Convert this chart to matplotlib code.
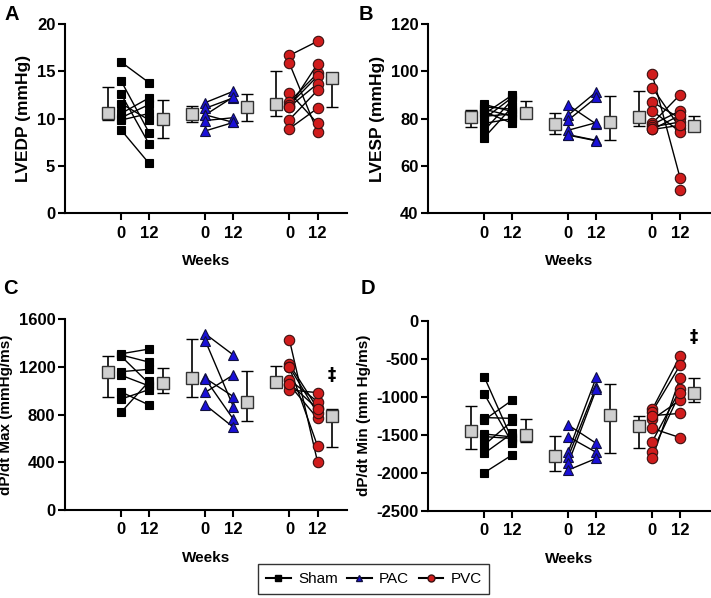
import numpy as np
import matplotlib
matplotlib.use("Agg")
import matplotlib.pyplot as plt
from matplotlib.lines import Line2D

plt.rcParams['font.family'] = ['Liberation Sans', 'DejaVu Sans']
plt.rcParams['font.weight'] = 'bold'
plt.rcParams['axes.unicode_minus'] = False

# ---- dados ----
groups = ["Sham", "PAC", "PVC"]
week_labels = ["0", "12"]

# LVEDP (mmHg)
lvedp_sham_0 = [16.0, 14.0, 12.6, 11.6, 10.55, 10.1, 9.85, 8.8]
lvedp_sham_12 = [13.8, 8.5, 7.3, 9.85, 12.2, 11.5, 10.55, 5.25]
lvedp_pac_0 = [11.7, 11.1, 10.4, 10.4, 9.8, 8.7]
lvedp_pac_12 = [12.9, 12.2, 12.3, 9.6, 10.1, 9.6]
lvedp_pvc_0 = [16.7, 15.85, 12.75, 11.8, 11.45, 11.25, 11.25, 9.9, 8.95]
lvedp_pvc_12 = [18.2, 8.6, 9.5, 14.8, 14.5, 15.8, 13.7, 13.0, 11.1]
lvedp_mean = [10.58, 9.95, 10.48, 11.2, 11.57, 14.3]
lvedp_lo = [9.88, 7.94, 9.6, 9.8, 10.23, 11.2]
lvedp_hi = [13.4, 12.0, 11.36, 12.56, 15.06, 14.74]

# LVESP (mmHg)
lvesp_sham_0 = [86, 85, 84, 83, 82, 81, 80, 78, 75, 72]
lvesp_sham_12 = [83, 84, 81, 78, 90, 82, 89, 80, 88, 85]
lvesp_pac_0 = [85.7, 81.5, 79.4, 75.1, 73.2, 73.0]
lvesp_pac_12 = [77.7, 91.3, 89.0, 78.3, 70.8, 70.6]
lvesp_pvc_0 = [98.8, 93.2, 87.1, 83.3, 78.0, 77.5, 76.5, 75.4, 75.4, np.nan]
lvesp_pvc_12 = [54.7, 76.0, 80.1, 74.4, 90.2, 83.3, 78.6, 81.5, 77.2, 49.7]
lvesp_mean = [80.9, 82.3, 77.8, 78.4, 80.6, 77.0]
lvesp_lo = [76.4, 80.9, 73.4, 70.8, 77.0, 75.0]
lvesp_hi = [83.7, 87.3, 82.6, 89.4, 91.9, 81.2]

# dP/dt Max (mmHg/ms)
dpmax_sham_0 = [1310, 1300, 1290, 1160, 1130, 990, 930, 820]
dpmax_sham_12 = [1350, 1240, 1060, 1180, 1040, 880, 1010, 1080]
dpmax_pac_0 = [1477, 1420, 1105, 1100, 987, 881]
dpmax_pac_12 = [1300, 867, 951, 761, 1133, 694]
dpmax_pvc_0 = [1426, 1222, 1197, 1091, 1049, 1007, 1200, 1060]
dpmax_pvc_12 = [405, 853, 537, 909, 769, 984, 811, 850]
dpmax_mean = [1161, 1068, 1105, 909, 1071, 789]
dpmax_lo = [951, 985, 951, 747, 1060, 531]
dpmax_hi = [1292, 1194, 1432, 1169, 1208, 847]

# dP/dt Min (mmHg/ms)
dpmin_sham_0 = [-740, -965, -1275, -1305, -1490, -1525, -1635, -1745, -2000]
dpmin_sham_12 = [-1570, -1610, -1285, -1045, -1530, -1550, -1320, -1480, -1765]
dpmin_pac_0 = [-1373, -1526, -1724, -1789, -1877, -1965]
dpmin_pac_12 = [-1614, -1732, -746, -868, -904, -1812]
dpmin_pvc_0 = [-1167, -1197, -1298, -1417, -1592, -1724, -1812, -1250]
dpmin_pvc_12 = [-465, -583, -1044, -1539, -904, -947, -750, -1219]
dpmin_mean = [-1447, -1504, -1776, -1241, -1386, -947]
dpmin_lo = [-1693, -1592, -1974, -1746, -1680, -1066]
dpmin_hi = [-1123, -1298, -1518, -838, -1250, -759]

# ---- estilo ----
sty = {
    "Sham": dict(marker='s', mfc='black', mec='black', ms=5.5),
    "PAC": dict(marker='^', mfc='#1a10d8', mec='#101040', ms=7.5),
    "PVC": dict(marker='o', mfc='#d01c1c', mec='#3a1010', ms=7.5),
}


def painel(ax, series, mean, lo, hi, ylim, yticks, ylabel, ylsize, dagger=None):
    for g, name in enumerate(groups):
        x0, x1 = 3 * g, 3 * g + 1
        v0, v1 = series[g]
        for a, b in zip(v0, v1):
            ax.plot([x0, x1], [a, b], color='black', lw=1.0, zorder=2)
        ax.plot([x0] * len(v0), v0, ls='none', mew=0.8, zorder=3, **sty[name])
        ax.plot([x1] * len(v1), v1, ls='none', mew=0.8, zorder=3, **sty[name])
        # resumo (quadrado cinza)
        for k, xm in enumerate([x0 - 0.47, x1 + 0.5]):
            i = 2 * g + k
            ax.errorbar([xm], [mean[i]],
                        yerr=[[mean[i] - lo[i]], [hi[i] - mean[i]]],
                        fmt='s', ms=8, mfc='#cfcfcf', mec='#333333', mew=1.0,
                        ecolor='black', elinewidth=1.2, capsize=4, capthick=1.2,
                        zorder=4)
    if dagger is not None:
        ax.text(3 * 2 + 1.5, dagger, "‡", ha='center', va='center',
                fontsize=12, fontweight='bold', family=['DejaVu Sans'])

    ax.set_xlim(-2.0, 8.06)
    ax.set_ylim(*ylim)
    ax.set_yticks(yticks)
    ax.set_xticks([0, 1, 3, 4, 6, 7])
    ax.set_xticklabels(week_labels * 3)
    ax.spines['top'].set_visible(False)
    ax.spines['right'].set_visible(False)
    ax.spines['left'].set_linewidth(1.5)
    ax.spines['bottom'].set_linewidth(1.5)
    ax.tick_params(width=1.5, length=5, labelsize=12)
    ax.tick_params(axis='x', pad=4)
    ax.tick_params(axis='y', pad=2)
    for lab in ax.get_xticklabels() + ax.get_yticklabels():
        lab.set_fontweight('bold')
    ax.set_ylabel(ylabel, fontsize=ylsize, fontweight='bold', labelpad=4)
    ax.set_xlabel("Weeks", fontsize=11, fontweight='bold', labelpad=10)


fig = plt.figure(figsize=(7.11, 5.98), dpi=100)
axA = fig.add_axes([0.0914, 0.6438, 0.397, 0.3156])
axB = fig.add_axes([0.6024, 0.6438, 0.396, 0.3156])
axC = fig.add_axes([0.0914, 0.1472, 0.397, 0.319])
axD = fig.add_axes([0.6024, 0.146, 0.396, 0.3177])

painel(axA, [(lvedp_sham_0, lvedp_sham_12), (lvedp_pac_0, lvedp_pac_12),
             (lvedp_pvc_0, lvedp_pvc_12)],
       lvedp_mean, lvedp_lo, lvedp_hi, (0, 20), [0, 5, 10, 15, 20],
       "LVEDP (mmHg)", 12.5)
painel(axB, [(lvesp_sham_0, lvesp_sham_12), (lvesp_pac_0, lvesp_pac_12),
             (lvesp_pvc_0, lvesp_pvc_12)],
       lvesp_mean, lvesp_lo, lvesp_hi, (40, 120), [40, 60, 80, 100, 120],
       "LVESP (mmHg)", 12.5)
painel(axC, [(dpmax_sham_0, dpmax_sham_12), (dpmax_pac_0, dpmax_pac_12),
             (dpmax_pvc_0, dpmax_pvc_12)],
       dpmax_mean, dpmax_lo, dpmax_hi, (0, 1600), [0, 400, 800, 1200, 1600],
       "dP/dt Max (mmHg/ms)", 11, dagger=1130)
painel(axD, [(dpmin_sham_0, dpmin_sham_12), (dpmin_pac_0, dpmin_pac_12),
             (dpmin_pvc_0, dpmin_pvc_12)],
       dpmin_mean, dpmin_lo, dpmin_hi, (-2500, 0),
       [-2500, -2000, -1500, -1000, -500, 0],
       "dP/dt Min (mm Hg/ms)", 11, dagger=-215)

# letras dos painéis
for letter, px, py in [("A", 11.5, 14), ("B", 366, 14), ("C", 10.5, 289), ("D", 368, 289)]:
    fig.text(px / 711, 1 - py / 598, letter, fontsize=14.5, fontweight='bold',
             ha='center', va='center')

# legenda
handles = [Line2D([], [], color='black', lw=1.5, **sty[n]) for n in groups]
for h in handles:
    h.set_markersize(5)
leg = fig.legend(handles, groups, loc='center', bbox_to_anchor=(0.526, 0.032),
                 ncol=3, frameon=True, fancybox=False, edgecolor='black',
                 fontsize=11, handlelength=1.6, handletextpad=0.5,
                 columnspacing=0.6, borderpad=0.5)
leg.get_frame().set_linewidth(1.0)
for t in leg.get_texts():
    t.set_fontweight('normal')

plt.savefig("out.png", dpi=100)
